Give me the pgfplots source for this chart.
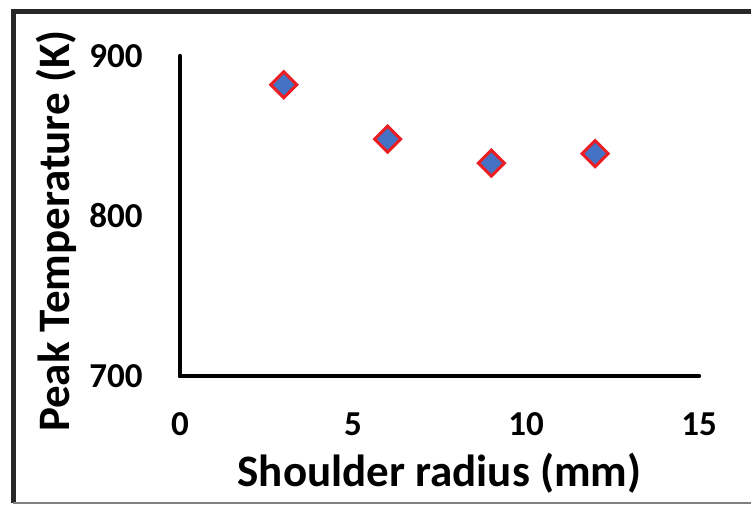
\documentclass[border=0pt]{standalone}
\usepackage{fontspec}
\setmainfont{Carlito}
\usepackage{pgfplots}
\pgfplotsset{compat=1.18}
\definecolor{markblue}{RGB}{68,114,196}
\definecolor{markred}{RGB}{235,30,36}
\definecolor{framegray}{RGB}{40,40,40}

% 1 px of the reference = 0.5pt
\begin{document}
\begin{tikzpicture}
\begin{axis}[
    at={(90pt,65pt)}, anchor=south west,
    scale only axis,
    width=259.5pt, height=160pt,
    xmin=0, xmax=15, ymin=700, ymax=900,
    xtick={0,5,10,15}, ytick={700,800,900},
    axis lines=left,
    axis line style={-, line width=2.2pt, line cap=round, black},
    major tick length=0pt,
    clip=false,
    /pgf/number format/assume math mode=true,
    tick label style={font=\bfseries\fontsize{17.5}{20}\selectfont, inner sep=0pt},
    yticklabel style={anchor=east, xshift=-18.5pt},
    xticklabel style={anchor=north, yshift=-18pt},
    xlabel={Shoulder radius (mm)},
    ylabel={Peak Temperature (K)},
    label style={font=\bfseries\fontsize{22.5}{26}\selectfont, inner sep=0pt},
    xlabel style={at={(axis description cs:0.5,-0.344)}, anchor=base},
    ylabel style={at={(axis description cs:-0.212,0.453)}, anchor=base, rotate=0},
]
\addplot[only marks, mark=square*, mark size=4.6pt,
    mark options={fill=markblue, draw=markred, line width=1.5pt, rotate=45}]
    coordinates {(3,882) (6,848) (9,833) (12,839)};
\end{axis}
% outer frame of the figure
\draw[line width=2.5pt, framegray] (6.5pt,1.5pt) -- (6.5pt,247pt) -- (380pt,247pt);
\draw[line width=1pt, gray] (6.5pt,1.5pt) -- (380pt,1.5pt);
\pgfresetboundingbox
\path[use as bounding box] (0,0) rectangle (375.5pt,253pt);
\end{tikzpicture}
\end{document}
